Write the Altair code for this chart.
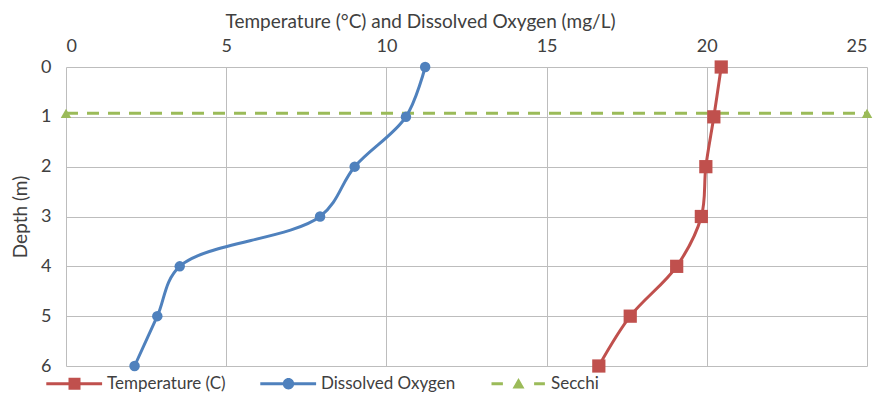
import altair as alt
import pandas as pd

# ---- data ----
depth = [0, 1, 2, 3, 4, 5, 6]
temperature = [20.45, 20.22, 19.97, 19.83, 19.06, 17.61, 16.63]
dissolved_oxygen = [11.21, 10.61, 9.01, 7.93, 3.55, 2.85, 2.14]
secchi_x = [0, 25]
secchi_depth = [0.93, 0.93]

series_names = ["Temperature (C)", "Dissolved Oxygen", "Secchi"]
series_colors = ["#C0504D", "#4F81BD", "#9BBB59"]
x_ticks = [0, 5, 10, 15, 20, 25]
y_ticks = [0, 1, 2, 3, 4, 5, 6]

# legend glyphs (line + marker), drawn in symbol unit space
legend_glyphs = [
    "M-4.7,-0.25H4.6V0.25H-4.7Z M-1,-1H1V1H-1Z",
    "M-4.7,-0.25H4.6V0.25H-4.7Z M-0.95,0A0.95,0.95 0 1,1 0.95,0A0.95,0.95 0 1,1 -0.95,0Z",
    "M-4.5,-0.25H-2.6V0.25H-4.5Z M0,-0.95L1,0.8H-1Z M2.6,-0.25H4.4V0.25H2.6Z",
]

FONT = "Lato"
TEXT = "#404040"

temp_df = pd.DataFrame({"value": temperature, "depth": depth})
do_df = pd.DataFrame({"value": dissolved_oxygen, "depth": depth})
secchi_df = pd.DataFrame({"value": secchi_x, "depth": secchi_depth})
legend_df = pd.DataFrame({"series": series_names, "value": [0] * 3, "depth": [0] * 3})

x_enc = alt.X(
    "value:Q",
    scale=alt.Scale(domain=[0, 25], nice=False, zero=False),
    axis=alt.Axis(
        orient="top",
        values=x_ticks,
        title="Temperature (°C) and Dissolved Oxygen (mg/L)",
        titleX=354,
        titleAlign="center",
        labelPadding=12,
        titlePadding=6,
    ),
)
y_enc = alt.Y(
    "depth:Q",
    scale=alt.Scale(domain=[0, 6], reverse=True, nice=False, zero=False),
    axis=alt.Axis(values=y_ticks, title="Depth (m)", labelPadding=15, titlePadding=10),
)

temp_line = alt.Chart(temp_df).mark_line(
    color=series_colors[0], strokeWidth=3, interpolate="catmull-rom"
).encode(x=x_enc, y=y_enc, order=alt.Order("depth:Q"))
temp_pts = alt.Chart(temp_df).mark_point(
    shape="square", filled=True, size=175, color=series_colors[0], opacity=1
).encode(x=x_enc, y=y_enc)

do_line = alt.Chart(do_df).mark_line(
    color=series_colors[1], strokeWidth=3, interpolate="catmull-rom"
).encode(x=x_enc, y=y_enc, order=alt.Order("depth:Q"))
do_pts = alt.Chart(do_df).mark_point(
    shape="circle", filled=True, size=110, color=series_colors[1], opacity=1
).encode(x=x_enc, y=y_enc)

secchi_line = alt.Chart(secchi_df).mark_line(
    color=series_colors[2], strokeWidth=3, strokeDash=[12, 9]
).encode(x=x_enc, y=y_enc, order=alt.Order("value:Q"))
secchi_pts = alt.Chart(secchi_df).mark_point(
    shape="triangle-up", filled=True, size=110, color=series_colors[2], opacity=1
).encode(x=x_enc, y=y_enc)

legend_def = alt.Legend(
    title=None,
    orient="none",
    legendX=-22,
    legendY=308,
    direction="horizontal",
    columns=3,
    symbolSize=144,
    symbolStrokeWidth=0,
    symbolOffset=22,
    labelOffset=24,
    columnPadding=32,
    labelFont=FONT,
    labelFontSize=17,
    labelColor=TEXT,
)
legend_layer = alt.Chart(legend_df).transform_filter("false").mark_point(
    filled=True, size=144, opacity=1, strokeWidth=0
).encode(
    x=x_enc,
    y=y_enc,
    color=alt.Color("series:N", scale=alt.Scale(domain=series_names, range=series_colors), legend=legend_def),
    shape=alt.Shape("series:N", scale=alt.Scale(domain=series_names, range=legend_glyphs), legend=legend_def),
)

chart = alt.layer(
    secchi_line, do_line, temp_line, secchi_pts, do_pts, temp_pts, legend_layer
).properties(
    width=801,
    height=299,
    autosize=alt.AutoSizeParams(type="none"),
    padding={"left": 58, "top": 59, "right": 7, "bottom": 27},
).configure_view(stroke=None).configure_axis(
    grid=True,
    gridColor="#BDBDBD",
    gridWidth=1,
    domain=False,
    ticks=False,
    tickSize=0,
    labelFont=FONT,
    labelFontSize=18,
    labelColor=TEXT,
    titleFont=FONT,
    titleFontSize=19,
    titleFontWeight="normal",
    titleColor=TEXT,
)

chart.save("out.html", embed_options={"renderer": "svg", "actions": False})
